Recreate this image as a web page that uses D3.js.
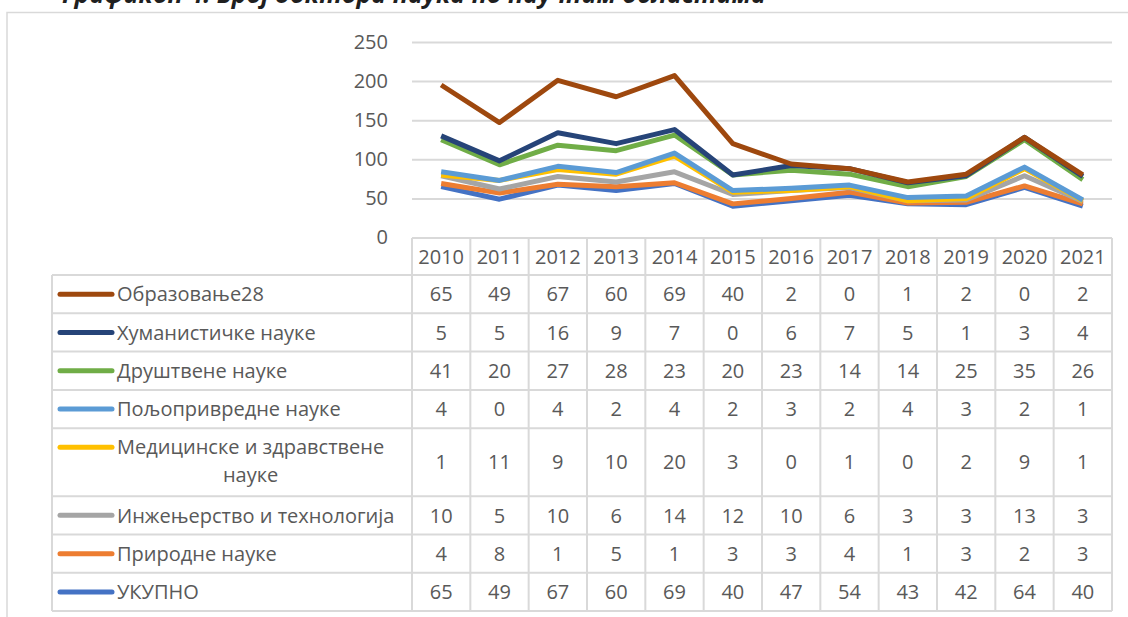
<!DOCTYPE html>
<html>
<head>
<meta charset="utf-8">
<script src="https://cdn.jsdelivr.net/npm/d3@7"></script>
<style>
  body { margin: 0; background: #fff; }
  svg { display: block; font-family: "Open Sans", "Noto Sans", sans-serif; }
</style>
</head>
<body>
<div id="chart"></div>
<script>
const years = ["2010", "2011", "2012", "2013", "2014", "2015", "2016", "2017", "2018", "2019", "2020", "2021"];

// table order (top to bottom)
const seriesNames = [
  "Образовање28",
  "Хуманистичке науке",
  "Друштвене науке",
  "Пољопривредне науке",
  "Медицинске и здравствене науке",
  "Инжењерство и технологија",
  "Природне науке",
  "УКУПНО"
];

const obrazovanje   = [65, 49, 67, 60, 69, 40, 2, 0, 1, 2, 0, 2];
const humanisticke  = [5, 5, 16, 9, 7, 0, 6, 7, 5, 1, 3, 4];
const drustvene     = [41, 20, 27, 28, 23, 20, 23, 14, 14, 25, 35, 26];
const poljoprivredne = [4, 0, 4, 2, 4, 2, 3, 2, 4, 3, 2, 1];
const medicinske    = [1, 11, 9, 10, 20, 3, 0, 1, 0, 2, 9, 1];
const inzenjerstvo  = [10, 5, 10, 6, 14, 12, 10, 6, 3, 3, 13, 3];
const prirodne      = [4, 8, 1, 5, 1, 3, 3, 4, 1, 3, 2, 3];
const ukupno        = [65, 49, 67, 60, 69, 40, 47, 54, 43, 42, 64, 40];

const seriesValues = [obrazovanje, humanisticke, drustvene, poljoprivredne, medicinske, inzenjerstvo, prirodne, ukupno];
const seriesColors = ["#9e480e", "#264478", "#70ad47", "#5b9bd5", "#ffc000", "#a5a5a5", "#ed7d31", "#4472c4"];

const yTicks = [0, 50, 100, 150, 200, 250];
const titleText = "Графикон 4. Број доктора наука по научним областима";

const width = 1128, height = 617;
const textColor = "#595959", gridColor = "#d9d9d9";
const fs = 20;

const svg = d3.select("#chart").append("svg")
  .attr("width", width)
  .attr("height", height);

// title (mostly cut off at the top, as in the source)
svg.append("text")
  .attr("x", 62)
  .attr("y", 3)
  .attr("font-size", 25)
  .attr("font-style", "italic")
  .attr("font-weight", "bold")
  .attr("fill", "#1f1f1f")
  .text(titleText);

// chart area border
svg.append("rect")
  .attr("x", 7).attr("y", 12.5)
  .attr("width", 1140).attr("height", 640)
  .attr("fill", "none")
  .attr("stroke", gridColor)
  .attr("stroke-width", 1.5);

const plotLeft = 412, plotRight = 1112;

const xScale = d3.scaleBand()
  .domain(years)
  .range([plotLeft, plotRight]);

const yScale = d3.scaleLinear()
  .domain([0, 250])
  .range([237.5, 42]);

// gridlines + y axis labels
const yAxis = d3.axisLeft(yScale)
  .tickValues(yTicks)
  .tickSize(-(plotRight - plotLeft))
  .tickPadding(24);

const yg = svg.append("g")
  .attr("transform", "translate(" + plotLeft + ",0)")
  .call(yAxis);
yg.select(".domain").remove();
yg.selectAll(".tick line")
  .attr("stroke", gridColor)
  .attr("stroke-width", 2);
yg.selectAll(".tick text")
  .attr("fill", textColor)
  .attr("font-size", fs)
  .attr("font-family", "Open Sans, sans-serif");
yg.selectAll(".tick").filter(d => d === 0).select("line").remove();

// stacked lines: bottom of stack is the last table row
const stackKeys = seriesNames.slice().reverse();
const rows = years.map((yr, i) => {
  const r = { year: yr };
  seriesNames.forEach((n, j) => { r[n] = seriesValues[j][i]; });
  return r;
});
const stacked = d3.stack().keys(stackKeys)(rows);

const line = d3.line()
  .x(d => xScale(d.data.year) + xScale.bandwidth() / 2)
  .y(d => yScale(d[1]));

svg.append("g")
  .selectAll("path")
  .data(stacked)
  .enter()
  .append("path")
  .attr("d", line)
  .attr("fill", "none")
  .attr("stroke", d => seriesColors[seriesNames.indexOf(d.key)])
  .attr("stroke-width", 5)
  .attr("stroke-linejoin", "round")
  .attr("stroke-linecap", "butt");

// data table
const tableLeft = 52;
const headerTop = 238, headerBottom = 275;
const rowH = 38.3;
const rowHeights = seriesNames.map(n => n.length > 26 ? 68 : rowH);
const rowTops = [];
let acc = headerBottom;
rowHeights.forEach(h => { rowTops.push(acc); acc += h; });
const tableBottom = acc;

const table = svg.append("g");

// horizontal lines
table.append("line")
  .attr("x1", plotLeft).attr("x2", plotRight)
  .attr("y1", headerTop).attr("y2", headerTop);
rowTops.concat([tableBottom]).forEach(y => {
  table.append("line")
    .attr("x1", tableLeft).attr("x2", plotRight)
    .attr("y1", y).attr("y2", y);
});
// vertical lines
years.forEach(yr => {
  table.append("line")
    .attr("x1", xScale(yr)).attr("x2", xScale(yr))
    .attr("y1", headerTop).attr("y2", tableBottom);
});
table.append("line")
  .attr("x1", plotRight).attr("x2", plotRight)
  .attr("y1", headerTop).attr("y2", tableBottom);
table.append("line")
  .attr("x1", tableLeft).attr("x2", tableLeft)
  .attr("y1", headerBottom).attr("y2", tableBottom);
table.selectAll("line")
  .attr("stroke", gridColor)
  .attr("stroke-width", 2);

// header years
table.selectAll("text.year")
  .data(years)
  .enter()
  .append("text")
  .attr("class", "year")
  .attr("x", d => xScale(d) + xScale.bandwidth() / 2)
  .attr("y", (headerTop + headerBottom) / 2)
  .attr("dy", "0.36em")
  .attr("text-anchor", "middle")
  .attr("font-size", fs)
  .attr("fill", textColor)
  .text(d => d);

// rows
seriesNames.forEach((name, j) => {
  const top = rowTops[j], h = rowHeights[j];
  const cy = top + h / 2;
  const g = table.append("g");

  g.selectAll("text")
    .data(seriesValues[j])
    .enter()
    .append("text")
    .attr("x", (d, i) => xScale(years[i]) + xScale.bandwidth() / 2)
    .attr("y", cy)
    .attr("dy", "0.36em")
    .attr("text-anchor", "middle")
    .attr("font-size", fs)
    .attr("fill", textColor)
    .text(d => d);

  const keyY = h > rowH ? top + 19 : cy;
  g.append("line")
    .attr("x1", 60).attr("x2", 112)
    .attr("y1", keyY).attr("y2", keyY)
    .attr("stroke", seriesColors[j])
    .attr("stroke-width", 5)
    .attr("stroke-linecap", "round");

  if (h > rowH) {
    const words = name.split(" ");
    const first = words.slice(0, -1).join(" ");
    const last = words[words.length - 1];
    const t1 = g.append("text")
      .attr("x", 117).attr("y", top + 19).attr("dy", "0.36em")
      .attr("font-size", fs).attr("fill", textColor)
      .text(first);
    const w = t1.node().getComputedTextLength();
    g.append("text")
      .attr("x", 117 + w / 2).attr("y", top + 47).attr("dy", "0.36em")
      .attr("text-anchor", "middle")
      .attr("font-size", fs).attr("fill", textColor)
      .text(last);
  } else {
    g.append("text")
      .attr("x", 117).attr("y", cy).attr("dy", "0.36em")
      .attr("font-size", fs).attr("fill", textColor)
      .text(name);
  }
});
</script>
</body>
</html>
